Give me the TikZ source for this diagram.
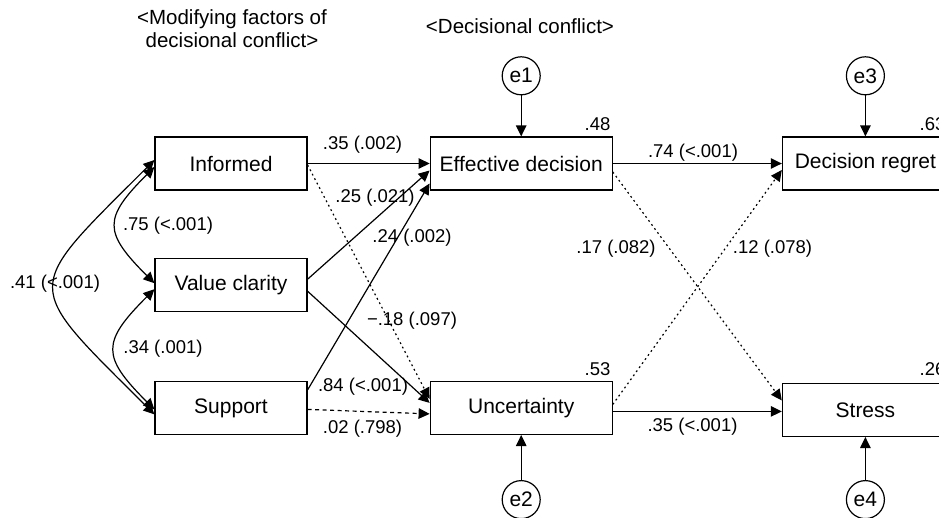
\documentclass[tikz,border=0pt]{standalone}
\usepackage{fontspec}
\setmainfont{Liberation Sans}
\usepackage{tikz}
\usetikzlibrary{arrows.meta,positioning}

\begin{document}
\begin{tikzpicture}[x=1pt, y=-1pt, line width=1.2pt, >={Triangle[length=11pt,width=10.5pt]},
  box/.style={draw, minimum height=53pt, inner sep=0pt, font=\fontsize{21}{24}\selectfont},
  err/.style={draw, circle, minimum size=38pt, inner sep=0pt, font=\fontsize{21}{24}\selectfont},
  lbl/.style={inner sep=0pt, anchor=base, font=\fontsize{18.5}{21}\selectfont},
  dotline/.style={dash pattern=on 1.8pt off 3.2pt},
  dashline/.style={dash pattern=on 4pt off 3.5pt}]
\useasboundingbox (0,0) rectangle (939,517);
% Headers
\node[inner sep=0pt, align=center, anchor=north, font=\fontsize{20.5}{23}\selectfont] (hmod) at (232,9) {<Modifying factors of\\decisional conflict>};
\node[inner sep=0pt, anchor=base, font=\fontsize{20.5}{23}\selectfont] (hdec) at (520,33) {<Decisional conflict>};
% Nodes
\node[box, minimum width=152pt] (inf) at (231,163.5) {Informed};
\node[box, minimum width=152pt, below=67pt of inf] (val) {Value clarity};
\node[box, minimum width=152pt, below=69pt of val] (sup) {Support};
\node[box, minimum width=182pt, right=122pt of inf] (eff) {Effective decision};
\node[box, minimum width=182pt, right=122pt of sup] (unc) {Uncertainty};
\node[box, minimum width=166pt, right=169pt of eff] (reg) {Decision regret};
\node[box, minimum width=166pt, right=169pt of unc, yshift=-2pt] (str) {Stress};
\node[err, above=41pt of eff] (e1) {e1};
\node[err, below=45pt of unc] (e2) {e2};
\node[err, above=41pt of reg] (e3) {e3};
\node[err, below=43pt of str] (e4) {e4};
% Arrows
\draw[->] (e1) -- (eff);
\draw[->] (e2) -- (unc);
\draw[->] (e3) -- (reg);
\draw[->] (e4) -- (str);
\draw[->] (inf) -- (eff);
\draw[->, dotline] ([yshift=-1.5pt]inf.east) -- ([yshift=9pt]unc.west);
\draw[->] ([yshift=5.5pt]val.east) -- ([yshift=-7pt]eff.west);
\draw[->] ([yshift=-6.5pt]val.east) -- ([yshift=5pt]unc.west);
\draw[->] ([yshift=18pt]sup.east) -- ([yshift=-20pt]eff.west);
\draw[->, dashline] ([yshift=-1.5pt]sup.east) -- ([yshift=-6pt]unc.west);
\draw[->] (eff) -- (reg);
\draw[->, dotline] ([yshift=-8.5pt]eff.east) -- ([yshift=9.5pt]str.west);
\draw[->, dotline] ([yshift=3.5pt]unc.east) -- ([yshift=-6.5pt]reg.west);
\draw[->] ([yshift=-3.5pt]unc.east) -- ([yshift=-1.5pt]str.west);
% Covariances
\draw[<->] ([yshift=-3.5pt]inf.west) to[out=225, in=135, looseness=1.6] ([yshift=1.5pt]val.west);
\draw[<->] ([yshift=-4.5pt]val.west) to[out=225, in=135, looseness=1.6] ([yshift=-1.5pt]sup.west);
\draw[<->] ([yshift=3.5pt]inf.west) to[out=225, in=135, looseness=1.9] ([yshift=-6.5pt]sup.west);
% Labels
\node[lbl] (l1) at (362.5,149) {.35 (.002)};
\node[lbl] (l2) at (375,202) {.25 (.021)};
\node[lbl] (l3) at (412,242) {.24 (.002)};
\node[lbl] (l4) at (412,325) {−.18 (.097)};
\node[lbl] (l5) at (363,391) {.84 (<.001)};
\node[lbl] (l6) at (362.5,433) {.02 (.798)};
\node[lbl] (l7) at (693,157) {.74 (<.001)};
\node[lbl] (l8) at (616,253) {.17 (.082)};
\node[lbl] (l9) at (772.5,253) {.12 (.078)};
\node[lbl] (l10) at (692.5,431) {.35 (<.001)};
\node[lbl] (c1) at (168,230) {.75 (<.001)};
\node[lbl] (c2) at (163,353) {.34 (.001)};
\node[lbl] (c3) at (55,288) {.41 (<.001)};
\node[lbl, anchor=base east] (r1) at (611,130) {.48};
\node[lbl, anchor=base east] (r2) at (611,375) {.53};
\node[lbl, anchor=base east] (r3) at (946,130) {.63};
\node[lbl, anchor=base east] (r4) at (946,375) {.26};
\end{tikzpicture}
\end{document}
